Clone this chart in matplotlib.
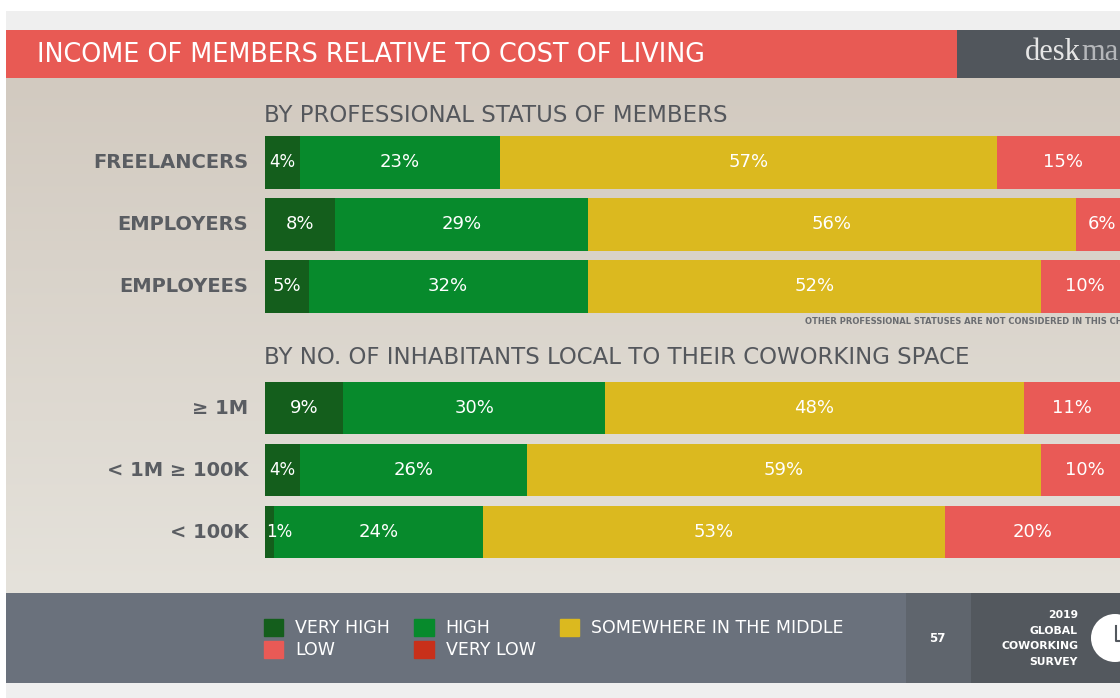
import matplotlib
matplotlib.use("Agg")
import matplotlib.pyplot as plt
import numpy as np
from matplotlib.patches import Rectangle, Patch, Circle

# ---------------- data ----------------
group1_labels = ["FREELANCERS", "EMPLOYERS", "EMPLOYEES"]
group1_very_high = [4, 8, 5]
group1_high = [23, 29, 32]
group1_middle = [57, 56, 52]
group1_low = [15, 6, 10]

group2_labels = ["\u2265 1M", "< 1M \u2265 100K", "< 100K"]
group2_very_high = [9, 4, 1]
group2_high = [30, 26, 24]
group2_middle = [48, 59, 53]
group2_low = [11, 10, 20]

category_names = ["VERY HIGH", "HIGH", "SOMEWHERE IN THE MIDDLE", "LOW", "VERY LOW"]
category_colors = ["#145e1c", "#078a2c", "#dbb91f", "#e95a56", "#c8301a"]

title = "INCOME OF MEMBERS RELATIVE TO COST OF LIVING"
heading1 = "BY PROFESSIONAL STATUS OF MEMBERS"
heading2 = "BY NO. OF INHABITANTS LOCAL TO THEIR COWORKING SPACE"
note = "OTHER PROFESSIONAL STATUSES ARE NOT CONSIDERED IN THIS CHART"
survey_lines = ["2019", "GLOBAL", "COWORKING", "SURVEY"]
page_number = "57"

W, H = 1120, 698
fig = plt.figure(figsize=(W / 100, H / 100), dpi=100)
fig.patch.set_facecolor("white")

# background axes in pixel coordinates
bg = fig.add_axes([0, 0, 1, 1])
bg.set_xlim(0, W)
bg.set_ylim(H, 0)
bg.axis("off")

bg.add_patch(Rectangle((6, 11), W, 19, color="#efefef", lw=0))
bg.add_patch(Rectangle((6, 683), W, 20, color="#efefef", lw=0))
# gradient body
grad = np.linspace(0, 1, 256).reshape(-1, 1)
top_c = np.array([0xd2, 0xca, 0xc0]) / 255
bot_c = np.array([0xe5, 0xe2, 0xdb]) / 255
img = top_c[None, None, :] * (1 - grad[:, :, None]) + bot_c[None, None, :] * grad[:, :, None]
bg.imshow(img, extent=(6, W, 593, 78), aspect="auto", zorder=0)
# header
bg.add_patch(Rectangle((6, 30), 957 - 6, 48, color="#e85a54", lw=0))
bg.add_patch(Rectangle((957, 30), W - 957, 48, color="#51565c", lw=0))
bg.text(37, 55, title, color="white", fontsize=18.4, va="center", ha="left")
bg.text(1025, 53, "desk", color="#e6e6e6", fontsize=22, va="center", ha="left",
        family="Liberation Serif")
bg.text(1081, 53, "ma", color="#b5b7ba", fontsize=22, va="center", ha="left",
        family="Liberation Serif")
# footer
bg.add_patch(Rectangle((6, 593), W, 90, color="#6a717c", lw=0))
bg.add_patch(Rectangle((906, 593), 65, 90, color="#5f656d", lw=0))
bg.add_patch(Rectangle((971, 593), W - 971, 90, color="#53585e", lw=0))
bg.text(937, 638, page_number, color="white", fontsize=8.5, ha="center", va="center",
        fontweight="bold")
for i, t in enumerate(survey_lines):
    bg.text(1078, 615 + i * 15.7, t, color="white", fontsize=7.8, ha="right", va="center",
            fontweight="bold")
bg.add_patch(Circle((1115, 638), 24, color="white", lw=0))
bg.plot([1116, 1116, 1120], [626, 641, 641], color="#53585e", lw=1.5)

# headings
bg.text(264, 115, heading1, color="#54575c", fontsize=16.5, ha="left", va="center")
bg.text(264, 357, heading2, color="#54575c", fontsize=16.5, ha="left", va="center")
bg.text(805, 322, note, color="#6a6c70", fontsize=6, ha="left", va="center", fontweight="bold")

px_per_pct = 8.72
x0 = 265
xmax = (W - x0) / px_per_pct


def draw_group(top_px, labels, series):
    ax = fig.add_axes([x0 / W, 1 - (top_px + 3 * 62) / H, (W - x0) / W, 3 * 62 / H])
    ax.set_xlim(0, xmax)
    ax.set_ylim(2.5, -0.5)
    ax.axis("off")
    y = np.arange(len(labels))
    left = np.zeros(len(labels))
    for vals, col in zip(series, category_colors):
        vals = np.array(vals, dtype=float)
        ax.barh(y, vals, left=left, height=0.84, color=col, lw=0)
        for yi, v, l in zip(y, vals, left):
            if v < 3:
                ax.text(l + 0.1, yi, f"{int(v)}%", color="white", fontsize=12,
                        ha="left", va="center", clip_on=False)
            else:
                fs = 12 if v < 5 else 13
                ax.text(l + v / 2, yi, f"{int(v)}%", color="white", fontsize=fs,
                        ha="center", va="center", clip_on=False)
        left += vals
    for yi, lab in zip(y, labels):
        ax.text(-17 / px_per_pct, yi, lab, color="#5a5d62", fontsize=14,
                ha="right", va="center", fontweight="bold")
    return ax


draw_group(131.5, group1_labels, [group1_very_high, group1_high, group1_middle, group1_low])
draw_group(377, group2_labels, [group2_very_high, group2_high, group2_middle, group2_low])

# legend
handles = [Patch(color=c, label=n) for c, n in zip(category_colors, category_names)]
order = [0, 3, 1, 4, 2]
leg = fig.legend([handles[i] for i in order], [category_names[i] for i in order],
                 ncol=3, loc="upper left", bbox_to_anchor=(264 / W, 1 - 619 / H),
                 frameon=False, fontsize=12.5, handlelength=1.1, handleheight=1.1,
                 handletextpad=0.7, columnspacing=1.4, labelspacing=0.22, borderpad=0,
                 borderaxespad=0, labelcolor="white")

fig.savefig("out.png", dpi=100, facecolor=fig.get_facecolor())
